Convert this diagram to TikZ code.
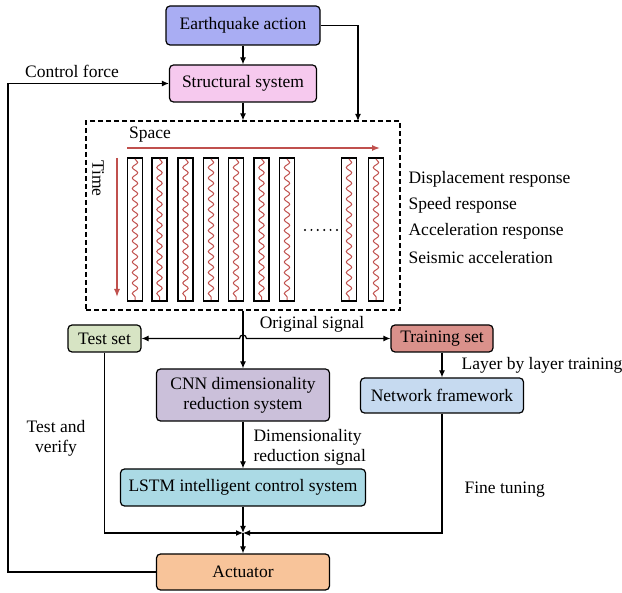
\documentclass[tikz,border=0pt]{standalone}
\usepackage{fontspec}
\setmainfont{Liberation Serif}
\usetikzlibrary{arrows.meta,decorations.pathmorphing}
\definecolor{quakecol}{HTML}{A9ADF3}
\definecolor{structcol}{HTML}{F6C9EE}
\definecolor{testcol}{HTML}{D7E4C4}
\definecolor{traincol}{HTML}{DA918B}
\definecolor{cnncol}{HTML}{CBC0DA}
\definecolor{netcol}{HTML}{C6DAF0}
\definecolor{lstmcol}{HTML}{ABDAE5}
\definecolor{actcol}{HTML}{F8C49A}
\definecolor{wavecol}{HTML}{C0504D}
\tikzset{
  box/.style={draw,rounded corners=4pt,line width=1.2pt,inner sep=0pt,align=center,font=\fontsize{17.5}{20}\selectfont},
  lbl/.style={inner sep=0pt,yshift=-1.5pt,font=\fontsize{17.5}{20}\selectfont},
  wave/.style={wavecol,line width=1pt,decorate,decoration={snake,segment length=10.5pt,amplitude=2.7pt}},
  redarrow/.style={wavecol,line width=1.4pt,-{Latex[length=8pt,width=6pt]}}
}
\begin{document}
\begin{tikzpicture}[>={Latex[length=7pt,width=6pt]},x=1pt,y=-1pt,line width=1.2pt]
\useasboundingbox (0,0) rectangle (622,593);
% blocks
\node[box,fill=quakecol,minimum width=154,minimum height=39] (quake) at (243,25.5) {Earthquake action};
\node[box,fill=structcol,minimum width=147,minimum height=37] (struct) at (243,83.5) {Structural system};
\node[draw,dash pattern=on 5pt off 3pt,line width=1.2pt,minimum width=314,minimum height=189,inner sep=0pt] (sig) at (243,215.5) {};
\node[box,fill=testcol,minimum width=73,minimum height=27] (tst) at (104.5,338.5) {Test set};
\node[box,fill=traincol,minimum width=102,minimum height=27] (trn) at (442,338.5) {Training set};
\node[box,fill=cnncol,minimum width=173,minimum height=52] (cnn) at (243,395) {CNN dimensionality\\reduction system};
\node[box,fill=netcol,minimum width=163,minimum height=35] (net) at (442,395.5) {Network framework};
\node[box,fill=lstmcol,minimum width=245,minimum height=37] (lstm) at (243,487.5) {LSTM intelligent control system};
\node[box,fill=actcol,minimum width=173,minimum height=36] (act) at (243,572) {Actuator};
% signal matrix
\foreach \x in {135,159.5,185.5,211,236,261.5,287,349,376} {
  \draw[line width=1.2pt] (\x-7.5,158) rectangle (\x+7.5,301);
  \draw[wave] (\x,159) -- (\x,300);
}
\draw[line width=2.2pt,line cap=round,dash pattern=on 0pt off 6.4pt] (305,230) -- (337,230);
\draw[redarrow] (127,148) -- (380,148);
\draw[redarrow] (117,158) -- (117,297);
\node[lbl] (spc) at (150,133) {Space};
\node[lbl,rotate=-90] (tim) at (98,177) {Time};
\node[lbl,anchor=west] (r1) at (408,178) {Displacement response};
\node[lbl,anchor=west] (r2) at (408,204) {Speed response};
\node[lbl,anchor=west] (r3) at (408,230) {Acceleration response};
\node[lbl,anchor=west] (r4) at (408,256) {Seismic acceleration};
% connectors
\coordinate (qin) at (358,121);
\coordinate (fb) at (8,83.5);
\coordinate (jn) at (243,533);
\draw[->] (quake) -- (struct);
\draw[->] (struct) -- (sig.north);
\draw[->] (quake.east) -| (qin);
\draw[->] (act.west) -| (fb) -- (struct.west);
\draw[->] (sig.south) -- (cnn.north);
\draw[<->] (tst.east) -- (239.5,338.5) arc[start angle=180,end angle=0,radius=3.5pt] -- (trn.west);
\draw[->] (trn) -- (net);
\draw[->] (cnn) -- (lstm);
\draw[->] (tst.south) |- (jn);
\draw[->] (net.south) |- (jn);
\draw[->] (lstm.south) -- (jn);
\draw[->] (jn) -- (act.north);
% labels
\node[lbl] (cf) at (72,70) {Control force};
\node[lbl] (os) at (312,323) {Original signal};
\node[lbl,anchor=west] (lbl1) at (461,364) {Layer by layer training};
\node[lbl,align=center] (tv) at (56,437) {Test and\\verify};
\node[lbl,align=left,anchor=west] (drs) at (253,446) {Dimensionality\\reduction signal};
\node[lbl,anchor=west] (ft) at (464,488) {Fine tuning};
\end{tikzpicture}
\end{document}
